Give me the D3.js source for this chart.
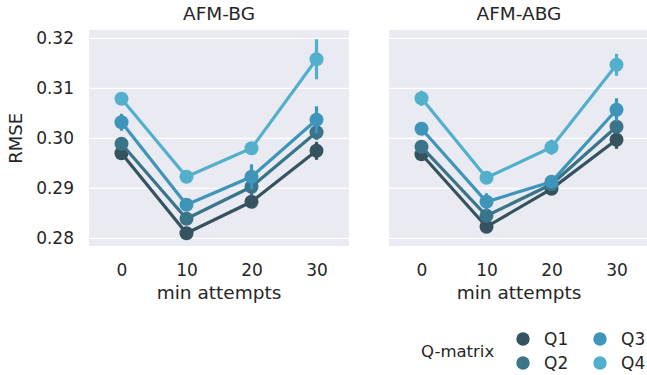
<!DOCTYPE html>
<html>
<head>
<meta charset="utf-8">
<script src="https://cdn.jsdelivr.net/npm/d3@7"></script>
<style>
  body { margin: 0; background: #fff; }
  text { font-family: "DejaVu Sans", sans-serif; fill: #262626; }
</style>
</head>
<body>
<div id="my_dataviz"></div>
<script>
// data
var attempts = ["0", "10", "20", "30"];
var qmatrix = ["Q1", "Q2", "Q3", "Q4"];
var panels = ["AFM-BG", "AFM-ABG"];
var yTicks = [0.28, 0.29, 0.30, 0.31, 0.32];

// mean RMSE per Q-matrix, per panel
var bgMean = [
  [0.2970, 0.2810, 0.2873, 0.2975],
  [0.2989, 0.2839, 0.2903, 0.3012],
  [0.3032, 0.2867, 0.2923, 0.3037],
  [0.3079, 0.2923, 0.2980, 0.3158]
];
var abgMean = [
  [0.2968, 0.2823, 0.2899, 0.2997],
  [0.2983, 0.2845, 0.2908, 0.3023],
  [0.3019, 0.2873, 0.2913, 0.3057],
  [0.3080, 0.2921, 0.2982, 0.3147]
];
// half width of the error bars
var bgErr = [
  [0.0004, 0.0004, 0.0006, 0.0018],
  [0.0004, 0.0004, 0.0018, 0.0015],
  [0.0017, 0.0005, 0.0025, 0.0027],
  [0.0004, 0.0004, 0.0005, 0.0040]
];
var abgErr = [
  [0.0004, 0.0004, 0.0009, 0.0018],
  [0.0004, 0.0004, 0.0006, 0.0008],
  [0.0005, 0.0017, 0.0010, 0.0023],
  [0.0015, 0.0004, 0.0015, 0.0022]
];
var colors = ["#35535f", "#3a7489", "#3e95ba", "#52b0cc"];

var W = 647, H = 375;
var panelW = 260, panelTop = 30, panelBottom = 246;
var panelX = [89, 389];

var svg = d3.select("#my_dataviz")
  .append("svg")
  .attr("width", W)
  .attr("height", H);

var y = d3.scaleLinear()
  .domain([0.28, 0.32])
  .range([238.3, 38.3]);

var means = [bgMean, abgMean];
var errs = [bgErr, abgErr];

panels.forEach(function (name, p) {
  var x0 = panelX[p];
  var x = d3.scalePoint().domain(attempts).range([x0, x0 + panelW]).padding(0.5);

  var g = svg.append("g");

  g.append("rect")
    .attr("x", x0)
    .attr("y", panelTop)
    .attr("width", panelW)
    .attr("height", panelBottom - panelTop)
    .attr("fill", "#eaeaf2");

  // grid
  g.selectAll(".grid")
    .data(yTicks)
    .enter()
    .append("line")
    .attr("x1", x0)
    .attr("x2", x0 + panelW)
    .attr("y1", function (d) { return y(d); })
    .attr("y2", function (d) { return y(d); })
    .attr("stroke", "#fff")
    .attr("stroke-width", 1.3);

  // title
  g.append("text")
    .attr("x", x0 + panelW / 2)
    .attr("y", 20)
    .attr("text-anchor", "middle")
    .style("font-size", "18.5px")
    .text(name);

  // x axis
  var xa = g.append("g")
    .attr("transform", "translate(0," + panelBottom + ")")
    .call(d3.axisBottom(x).tickSize(0).tickPadding(18));
  xa.select(".domain").remove();
  xa.selectAll("text").style("font-size", "17px").attr("fill", "#262626");

  g.append("text")
    .attr("x", x0 + panelW / 2)
    .attr("y", 298.5)
    .attr("text-anchor", "middle")
    .style("font-size", "18.5px")
    .text("min attempts");

  // y axis only on the first panel
  if (p == 0) {
    var ya = g.append("g")
      .attr("transform", "translate(" + x0 + ",0)")
      .call(d3.axisLeft(y).tickValues(yTicks).tickFormat(d3.format(".2f")).tickSize(0).tickPadding(15));
    ya.select(".domain").remove();
    ya.selectAll("text").style("font-size", "17px").attr("fill", "#262626");

    g.append("text")
      .attr("transform", "translate(22," + 138.3 + ") rotate(-90)")
      .attr("text-anchor", "middle")
      .style("font-size", "18px")
      .text("RMSE");
  }

  var line = d3.line()
    .x(function (d, i) { return x(attempts[i]); })
    .y(function (d) { return y(d); });

  qmatrix.forEach(function (q, k) {
    var vals = means[p][k];
    var e = errs[p][k];
    var s = g.append("g");

    s.append("path")
      .datum(vals)
      .attr("d", line)
      .attr("fill", "none")
      .attr("stroke", colors[k])
      .attr("stroke-width", 3.2);

    s.selectAll(".err")
      .data(vals)
      .enter()
      .append("line")
      .attr("x1", function (d, i) { return x(attempts[i]); })
      .attr("x2", function (d, i) { return x(attempts[i]); })
      .attr("y1", function (d, i) { return y(d - e[i]); })
      .attr("y2", function (d, i) { return y(d + e[i]); })
      .attr("stroke", colors[k])
      .attr("stroke-width", 3.2);

    s.selectAll("circle")
      .data(vals)
      .enter()
      .append("circle")
      .attr("cx", function (d, i) { return x(attempts[i]); })
      .attr("cy", function (d) { return y(d); })
      .attr("r", 7)
      .attr("fill", colors[k]);
  });
});

// legend
var legend = svg.append("g");
legend.append("text")
  .attr("x", 421)
  .attr("y", 356.5)
  .style("font-size", "16.5px")
  .text("Q-matrix");

var legPos = [[523, 339], [523, 363], [600, 339], [600, 363]];
qmatrix.forEach(function (q, k) {
  legend.append("circle")
    .attr("cx", legPos[k][0])
    .attr("cy", legPos[k][1])
    .attr("r", 6.7)
    .attr("fill", colors[k]);
  legend.append("text")
    .attr("x", legPos[k][0] + 21)
    .attr("y", legPos[k][1] + 6.3)
    .style("font-size", "17px")
    .text(q);
});
</script>
</body>
</html>
